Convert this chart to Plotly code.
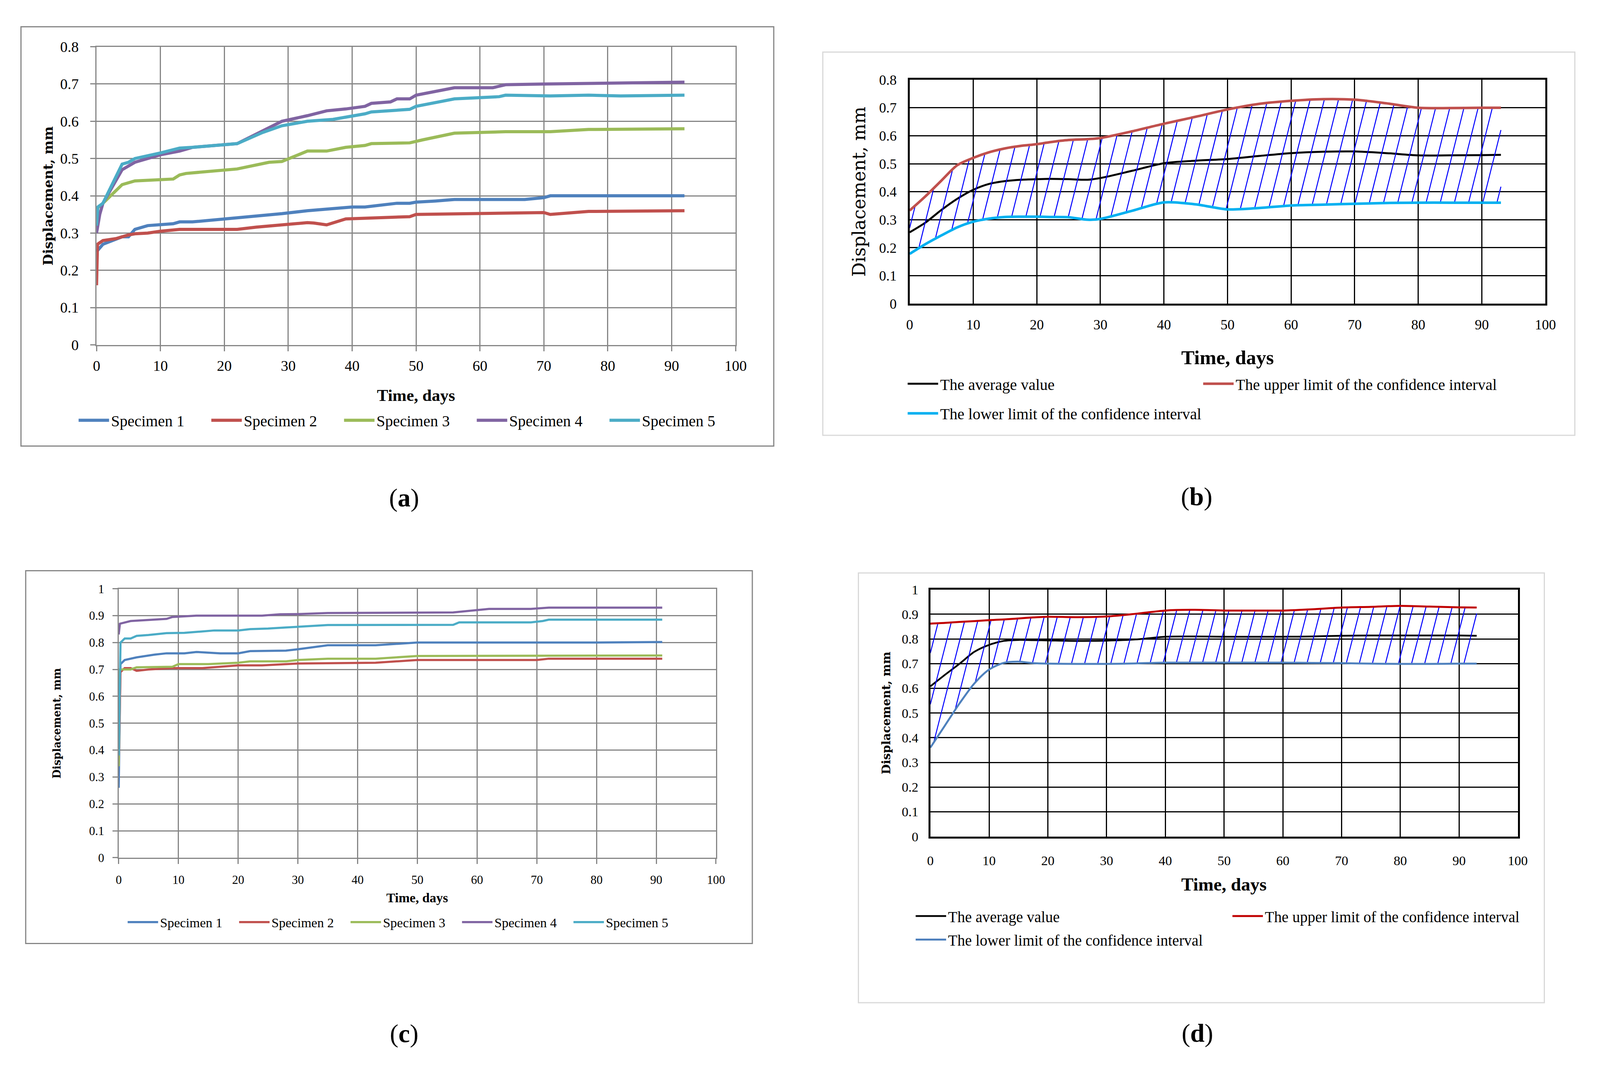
import numpy as np
import plotly.graph_objects as go

# the browser screen is 4096 px wide, so the page is laid out on 4096x2728
# and every position read from the 4364x2728 reference is mapped onto it
REF_W = 4364
KX = 4096 / REF_W
OFF = 8  # default body margin
FW, FH = 4076, 2708

# ---------------- data ----------------
# panel (a): specimens, first series
a1_x = [0, 1, 4, 5, 6, 8, 12, 13, 15, 20, 22, 25, 27, 29, 33, 37, 40, 42, 45, 47, 49, 50, 53, 56, 67, 70, 71, 92]
a1_y = [0.25, 0.27, 0.29, 0.29, 0.31, 0.32, 0.325, 0.33, 0.33, 0.338, 0.34, 0.345, 0.35, 0.352, 0.36, 0.365,
        0.37, 0.37, 0.375, 0.38, 0.38, 0.383, 0.386, 0.39, 0.39, 0.395, 0.40, 0.40]
a2_x = [0, 0.15, 1, 3, 5, 6, 8, 10, 13, 22, 25, 28, 30, 33, 34, 36, 39, 43, 46, 49, 50, 63, 67, 70, 71, 74, 77, 92]
a2_y = [0.16, 0.27, 0.28, 0.285, 0.295, 0.298, 0.30, 0.305, 0.31, 0.31, 0.316, 0.32, 0.322, 0.328, 0.327, 0.322,
        0.338, 0.34, 0.343, 0.344, 0.35, 0.352, 0.354, 0.355, 0.35, 0.355, 0.358, 0.36]
a3_x = [0, 1, 4, 6, 12, 13, 14, 20, 22, 27, 29, 33, 36, 39, 42, 43, 49, 51, 56, 64, 71, 77, 92]
a3_y = [0.365, 0.38, 0.43, 0.44, 0.445, 0.456, 0.46, 0.47, 0.472, 0.49, 0.492, 0.52, 0.52, 0.53, 0.535, 0.54,
        0.542, 0.55, 0.568, 0.572, 0.572, 0.578, 0.58]
a4_x = [0, 0.5, 1, 4, 6, 10, 13, 15, 22, 26, 29, 33, 36, 39, 42, 43, 46, 47, 49, 50, 53, 56, 62, 64, 70, 92]
a4_y = [0.30, 0.35, 0.38, 0.47, 0.49, 0.51, 0.52, 0.53, 0.54, 0.575, 0.60, 0.615, 0.628, 0.633, 0.64, 0.648,
        0.652, 0.66, 0.66, 0.67, 0.68, 0.69, 0.69, 0.698, 0.70, 0.705]
a5_x = [0, 0.2, 1, 4, 5, 6, 10, 13, 15, 22, 26, 29, 33, 37, 42, 43, 49, 50, 56, 63, 64, 71, 77, 82, 92]
a5_y = [0.32, 0.37, 0.38, 0.485, 0.49, 0.50, 0.515, 0.528, 0.53, 0.54, 0.57, 0.588, 0.60, 0.605, 0.62, 0.625,
        0.632, 0.64, 0.66, 0.666, 0.67, 0.668, 0.67, 0.668, 0.67]

# panel (b): mean and confidence limits
b_x = [0, 2.5, 5, 7.5, 10, 12.5, 15, 17.5, 20, 22, 25, 28, 30, 35, 40, 45, 50, 55, 60, 65, 70, 75, 80, 85, 90, 93]
b_upper = [0.333, 0.384, 0.44, 0.495, 0.521, 0.541, 0.555, 0.564, 0.57, 0.577, 0.585, 0.588, 0.592, 0.616,
           0.643, 0.668, 0.694, 0.714, 0.725, 0.731, 0.729, 0.716, 0.70, 0.699, 0.70, 0.70]
b_avg = [0.255, 0.29, 0.335, 0.375, 0.407, 0.428, 0.438, 0.443, 0.445, 0.446, 0.445, 0.443, 0.449, 0.475,
         0.502, 0.511, 0.517, 0.528, 0.538, 0.543, 0.544, 0.538, 0.53, 0.53, 0.531, 0.532]
b_lower = [0.178, 0.213, 0.244, 0.273, 0.293, 0.304, 0.31, 0.311, 0.311, 0.31, 0.309, 0.30, 0.303, 0.332,
           0.362, 0.355, 0.337, 0.342, 0.351, 0.354, 0.357, 0.36, 0.361, 0.361, 0.361, 0.361]

# panel (c): specimens, second series
c1_x = [0, 0.3, 1, 3, 6, 8, 11, 13, 17, 20, 22, 28, 30, 33, 35, 43, 46, 50, 80, 91]
c1_y = [0.26, 0.72, 0.735, 0.745, 0.755, 0.76, 0.76, 0.765, 0.76, 0.76, 0.768, 0.77, 0.775, 0.785, 0.79,
        0.79, 0.795, 0.80, 0.80, 0.802]
c2_x = [0, 0.3, 1, 2, 3, 5, 9, 14, 20, 24, 30, 43, 50, 70, 72, 91]
c2_y = [0.35, 0.69, 0.705, 0.705, 0.695, 0.70, 0.705, 0.705, 0.715, 0.715, 0.722, 0.725, 0.735, 0.735, 0.74, 0.74]
c3_x = [0, 0.2, 2, 3, 9, 10, 15, 20, 22, 28, 30, 35, 43, 48, 50, 91]
c3_y = [0.34, 0.70, 0.70, 0.708, 0.71, 0.72, 0.72, 0.725, 0.73, 0.73, 0.735, 0.74, 0.74, 0.748, 0.75, 0.752]
c4_x = [0, 0.2, 2, 4, 6, 8, 9, 13, 24, 27, 30, 35, 56, 60, 62, 69, 72, 91]
c4_y = [0.83, 0.87, 0.88, 0.882, 0.886, 0.888, 0.895, 0.90, 0.90, 0.905, 0.906, 0.91, 0.912, 0.92, 0.925,
        0.925, 0.93, 0.93]
c5_x = [0, 0.3, 1, 2, 3, 5, 8, 11, 16, 20, 22, 25, 28, 35, 56, 57, 69, 71, 72, 91]
c5_y = [0.38, 0.80, 0.815, 0.815, 0.825, 0.828, 0.835, 0.836, 0.845, 0.845, 0.85, 0.852, 0.856, 0.865,
        0.866, 0.875, 0.875, 0.88, 0.885, 0.885]

# panel (d): mean and confidence limits
d_x = [0, 2.5, 5, 7.5, 10, 12.5, 15, 17.5, 20, 25, 30, 35, 40, 45, 50, 55, 60, 65, 70, 75, 80, 85, 90, 93]
d_upper = [0.862, 0.865, 0.869, 0.872, 0.876, 0.879, 0.883, 0.887, 0.89, 0.888, 0.891, 0.902, 0.915, 0.918,
           0.915, 0.915, 0.915, 0.92, 0.927, 0.93, 0.934, 0.931, 0.928, 0.927]
d_avg = [0.608, 0.655, 0.70, 0.748, 0.776, 0.792, 0.796, 0.795, 0.794, 0.792, 0.793, 0.798, 0.809, 0.81,
         0.809, 0.809, 0.809, 0.81, 0.813, 0.814, 0.814, 0.814, 0.814, 0.813]
d_lower = [0.36, 0.45, 0.54, 0.62, 0.676, 0.703, 0.708, 0.702, 0.70, 0.699, 0.699, 0.701, 0.704, 0.704,
           0.704, 0.704, 0.704, 0.703, 0.702, 0.70, 0.699, 0.699, 0.70, 0.70]

specimen_names = ["Specimen 1", "Specimen 2", "Specimen 3", "Specimen 4", "Specimen 5"]
band_names = ["The average value", "The upper limit of the confidence interval",
              "The lower limit of the confidence interval"]

# ---------------- style ----------------
spec_colors = ["#4F81BD", "#C0504D", "#9BBB59", "#8064A2", "#4BACC6"]
GRAY = "#868686"
SERIF = "Liberation Serif"
WIDE = "DejaVu Serif"


def fx(p):
    # reference x pixel -> paper fraction
    return (p * KX - OFF) / FW


def fy(p):
    return 1 - (p - OFF) / FH


# plot areas in reference pixels: left, right, top, bottom
boxes = {
    "a": (256, 2015, 100, 875),
    "b": (2494, 4244, 186, 768),
    "c": (317, 1961, 1509, 2208),
    "d": (2551, 4168, 1511, 2153),
}
frames = {
    "a": (48, 2120, 48, 1138, GRAY),
    "b": (2255, 4325, 114, 1110, "#D9D9D9"),
    "c": (61, 2061, 1462, 2431, GRAY),
    "d": (2353, 4241, 1468, 2585, "#D9D9D9"),
}


def hatch_lines(x, lo, hi, box, yrange, slant, spacing_px, phase):
    """slanted hatch segments clipped between the lower and upper curve"""
    x = np.asarray(x, float)
    lo = np.asarray(lo, float)
    hi = np.asarray(hi, float)
    px_day = (box[1] - box[0]) / 100.0
    px_mm = (box[3] - box[2]) / yrange
    c = slant * px_mm / px_day  # days of shift per mm of rise
    step = spacing_px / px_day
    g_lo = x - c * lo
    g_hi = x - c * hi
    hx, hy = [], []
    t = phase
    while t > g_hi[0]:
        t -= step
    while t < g_lo[-1]:
        if t >= g_hi[0]:
            if t < g_lo[0]:
                x0, y0 = x[0], (x[0] - t) / c
            else:
                x0 = np.interp(t, g_lo, x)
                y0 = np.interp(x0, x, lo)
            if t > g_hi[-1]:
                x1, y1 = x[-1], (x[-1] - t) / c
            else:
                x1 = np.interp(t, g_hi, x)
                y1 = np.interp(x1, x, hi)
            hx += [x0, x1, None]
            hy += [y0, y1, None]
        t += step
    return hx, hy


fig = go.Figure()

# (a)
for xs, ys, name, col in zip([a1_x, a2_x, a3_x, a4_x, a5_x], [a1_y, a2_y, a3_y, a4_y, a5_y],
                             specimen_names, spec_colors):
    fig.add_trace(go.Scatter(x=xs, y=ys, mode="lines", name=name, line=dict(color=col, width=8),
                             xaxis="x", yaxis="y", legend="legend"))

# (b)
fig.add_trace(go.Scatter(x=b_x, y=b_avg, mode="lines", name=band_names[0], xaxis="x2", yaxis="y2",
                         line=dict(color="black", width=5, shape="spline", smoothing=0.8), legend="legend2"))
hx, hy = hatch_lines(b_x, b_lower, b_upper, boxes["b"], 0.8, 0.265, 39, -0.75)
fig.add_trace(go.Scatter(x=hx, y=hy, mode="lines", line=dict(color="#0000FF", width=2.5),
                         showlegend=False, hoverinfo="skip", xaxis="x2", yaxis="y2"))
fig.add_trace(go.Scatter(x=b_x, y=b_upper, mode="lines", name=band_names[1], xaxis="x2", yaxis="y2",
                         line=dict(color="#C0504D", width=6.5, shape="spline", smoothing=0.8), legend="legend2"))
fig.add_trace(go.Scatter(x=b_x, y=b_lower, mode="lines", name=band_names[2], xaxis="x2", yaxis="y2",
                         line=dict(color="#00B0F0", width=6.5, shape="spline", smoothing=0.8), legend="legend3"))

# (c)
for xs, ys, name, col in zip([c1_x, c2_x, c3_x, c4_x, c5_x], [c1_y, c2_y, c3_y, c4_y, c5_y],
                             specimen_names, spec_colors):
    fig.add_trace(go.Scatter(x=xs, y=ys, mode="lines", name=name, line=dict(color=col, width=5.5),
                             xaxis="x3", yaxis="y3", legend="legend4"))

# (d)
fig.add_trace(go.Scatter(x=d_x, y=d_avg, mode="lines", name=band_names[0], xaxis="x4", yaxis="y4",
                         line=dict(color="black", width=4.5, shape="spline", smoothing=0.8), legend="legend5"))
hx, hy = hatch_lines(d_x, d_lower, d_upper, boxes["d"], 1.0, 0.27, 36, -3.51)
fig.add_trace(go.Scatter(x=hx, y=hy, mode="lines", line=dict(color="#0000FF", width=2.5),
                         showlegend=False, hoverinfo="skip", xaxis="x4", yaxis="y4"))
fig.add_trace(go.Scatter(x=d_x, y=d_upper, mode="lines", name=band_names[1], xaxis="x4", yaxis="y4",
                         line=dict(color="#C00000", width=5, shape="spline", smoothing=0.8), legend="legend5"))
fig.add_trace(go.Scatter(x=d_x, y=d_lower, mode="lines", name=band_names[2], xaxis="x4", yaxis="y4",
                         line=dict(color="#4F81BD", width=5, shape="spline", smoothing=0.8), legend="legend6"))


def axis_pair(key, yrange, excel_gray, tick_size, xstand, ystand):
    l, r, t, b = boxes[key]
    if excel_gray:
        common = dict(showgrid=True, gridcolor=GRAY, gridwidth=3, showline=True, linecolor=GRAY,
                      linewidth=3, mirror=True, ticks="outside", ticklen=13, tickwidth=3,
                      tickcolor=GRAY, zeroline=False)
    else:
        common = dict(showgrid=True, gridcolor="black", gridwidth=3, showline=True, linecolor="black",
                      linewidth=5, mirror=True, ticks="", zeroline=False)
    tf = dict(family=SERIF, size=tick_size, color="black")
    xa = dict(domain=[fx(l), fx(r)], range=[0, 100], dtick=10, tick0=0, tickfont=tf,
              ticklabelstandoff=xstand, **common)
    ya = dict(domain=[fy(b), fy(t)], range=[0, yrange], dtick=0.1, tick0=0, tickfont=tf,
              ticklabelstandoff=ystand, **common)
    return xa, ya


xa1, ya1 = axis_pair("a", 0.8, True, 38, 5, 22)
xa2, ya2 = axis_pair("b", 0.8, False, 36, 18, 21)
xa3, ya3 = axis_pair("c", 1.0, True, 31, 14, 15)
xa4, ya4 = axis_pair("d", 1.0, False, 34, 27, 19)

shapes = []
for key, (l, r, t, b, col) in frames.items():
    shapes.append(dict(type="rect", xref="paper", yref="paper", x0=fx(l), x1=fx(r), y0=fy(b), y1=fy(t),
                       line=dict(color=col, width=3), layer="below"))

annotations = []
# y titles
for xc, key, text_font in [
    (123, "a", dict(family=WIDE, size=34, color="black")),
    (2354, "b", dict(family=WIDE, size=46, color="black")),
    (147, "c", dict(family=WIDE, size=27, color="black")),
    (2430, "d", dict(family=WIDE, size=30, color="black")),
]:
    l, r, t, b = boxes[key]
    txt = "Displacement, mm" if key == "b" else "<b>Displacement, mm</b>"
    annotations.append(dict(text=txt, x=fx(xc), y=fy((t + b) / 2), xref="paper", yref="paper",
                            textangle=-90, showarrow=False, font=text_font,
                            xanchor="center", yanchor="middle"))
# x titles
for key, yc, size in [("a", 1006, 43), ("b", 908, 51), ("c", 2312, 34), ("d", 2277, 47)]:
    l, r, t, b = boxes[key]
    annotations.append(dict(text="<b>Time, days</b>", x=fx((l + r) / 2), y=fy(yc), xref="paper",
                            yref="paper", showarrow=False, font=dict(family=SERIF, size=size, color="black"),
                            xanchor="center", yanchor="middle"))
# panel labels
for lab, xc, yc in [("a", 1102, 1273), ("b", 3284, 1270), ("c", 1102, 2665), ("d", 3286, 2664)]:
    annotations.append(dict(text="(<b>%s</b>)" % lab, x=fx(xc), y=fy(yc), xref="paper", yref="paper",
                            showarrow=False, font=dict(family=SERIF, size=66, color="black"),
                            xanchor="center", yanchor="middle"))

ITEM_W = 78


def legend_box(line_start, ypx, size, spacing):
    # line_start / spacing are reference pixels of the first legend line and the entry pitch
    x0 = (line_start * KX - OFF - 12) / FW
    return dict(x=x0, y=fy(ypx), xanchor="left", yanchor="middle", orientation="h",
                entrywidth=spacing * KX - ITEM_W - 15, entrywidthmode="pixels", itemwidth=ITEM_W,
                bgcolor="rgba(0,0,0,0)", font=dict(family=SERIF, size=size, color="black"),
                tracegroupgap=0)


fig.update_layout(
    width=FW, height=FH, margin=dict(l=0, r=0, t=0, b=0),
    paper_bgcolor="white", plot_bgcolor="white", showlegend=True,
    xaxis=dict(anchor="y", **xa1), yaxis=dict(anchor="x", **ya1),
    xaxis2=dict(anchor="y2", **xa2), yaxis2=dict(anchor="x2", **ya2),
    xaxis3=dict(anchor="y3", **xa3), yaxis3=dict(anchor="x3", **ya3),
    xaxis4=dict(anchor="y4", **xa4), yaxis4=dict(anchor="x4", **ya4),
    legend=legend_box(214, 1071, 40, 362),
    legend2=legend_box(2496, 976, 40, 806),
    legend3=legend_box(2496, 1053, 40, 806),
    legend4=legend_box(349, 2376, 34, 304),
    legend5=legend_box(2518, 2360, 39, 864),
    legend6=legend_box(2518, 2421, 39, 864),
    shapes=shapes,
    annotations=annotations,
)

fig.write_html("out.html")
